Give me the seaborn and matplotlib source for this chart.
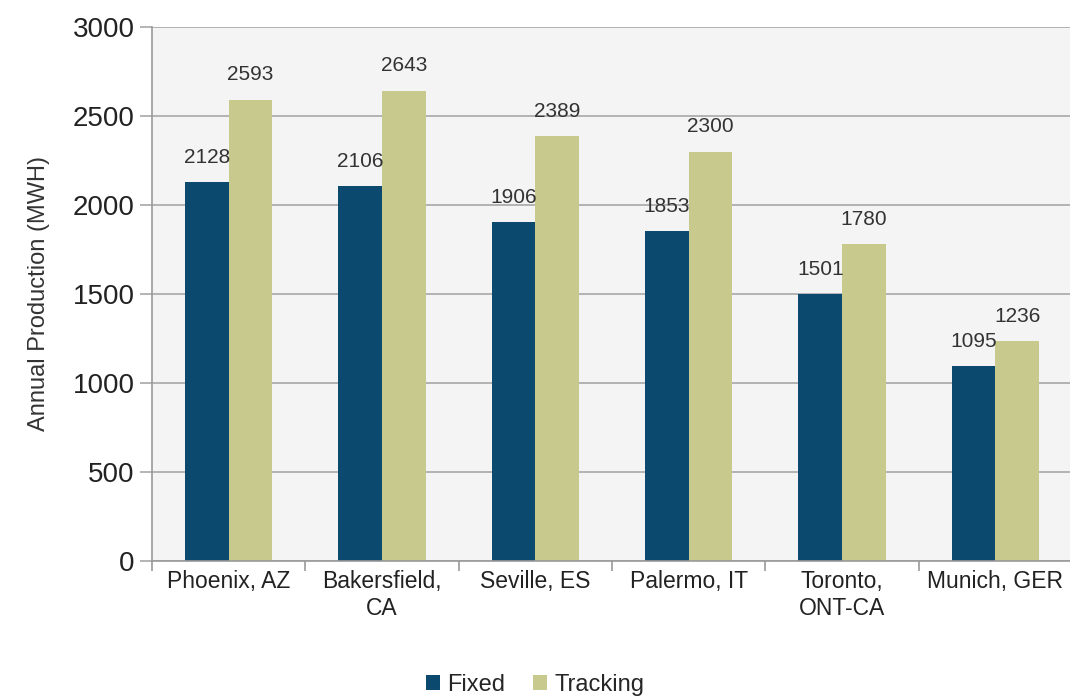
import pandas as pd
import seaborn as sns
import matplotlib.pyplot as plt
from matplotlib.ticker import FixedLocator

# Data
cities = ['Phoenix, AZ', 'Bakersfield,\nCA', 'Seville, ES', 'Palermo, IT',
          'Toronto,\nONT-CA', 'Munich, GER']
fixed = [2128, 2106, 1906, 1853, 1501, 1095]
tracking = [2593, 2643, 2389, 2300, 1780, 1236]

df = pd.DataFrame({
    'city': cities * 2,
    'mode': ['Fixed'] * len(cities) + ['Tracking'] * len(cities),
    'mwh': fixed + tracking,
})

sns.set_theme(style='white')
plt.rcParams['font.family'] = ['Liberation Sans', 'DejaVu Sans']

fig = plt.figure(figsize=(10.7, 7), dpi=100)
ax = fig.add_axes([0.142, 0.199, 0.860, 0.762])
ax.set_facecolor('#f4f4f4')

sns.barplot(data=df, x='city', y='mwh', hue='mode',
            palette={'Fixed': '#0b4a6e', 'Tracking': '#c8c98c'},
            width=0.57, saturation=1, linewidth=0, ax=ax)

for cont in ax.containers:
    ax.bar_label(cont, padding=11, fontsize=15, color='#333333')

ax.set_xlim(-0.5, 5.5)
ax.set_ylim(0, 3000)
ax.set_yticks(range(0, 3001, 500))
ax.yaxis.grid(True, color='#a8a8a8', linewidth=1.2)
ax.set_axisbelow(True)

ax.xaxis.set_minor_locator(FixedLocator([i - 0.5 for i in range(7)]))
ax.tick_params(axis='x', which='major', length=0, labelsize=16.5, pad=7,
               colors='#222222')
ax.tick_params(axis='x', which='minor', length=7, width=1.2, color='#999999',
               direction='out', bottom=True)
ax.tick_params(axis='y', length=9, width=1.2, color='#a8a8a8',
               labelsize=20, labelcolor='#222222', left=True)

for s in ['top', 'right']:
    ax.spines[s].set_visible(False)
for s in ['left', 'bottom']:
    ax.spines[s].set_color('#999999')
    ax.spines[s].set_linewidth(1.2)

ax.set_xlabel('')
ax.set_ylabel('Annual Production (MWH)', fontsize=17, color='#333333',
              labelpad=16)

handles, labels = ax.get_legend_handles_labels()
ax.get_legend().remove()
fig.legend(handles, labels, loc='center', bbox_to_anchor=(0.5, 0.022),
           ncol=2, frameon=False, fontsize=17, handlelength=0.6,
           handleheight=0.6, handletextpad=0.3, columnspacing=1.2)

fig.savefig('out.png', dpi=100)
